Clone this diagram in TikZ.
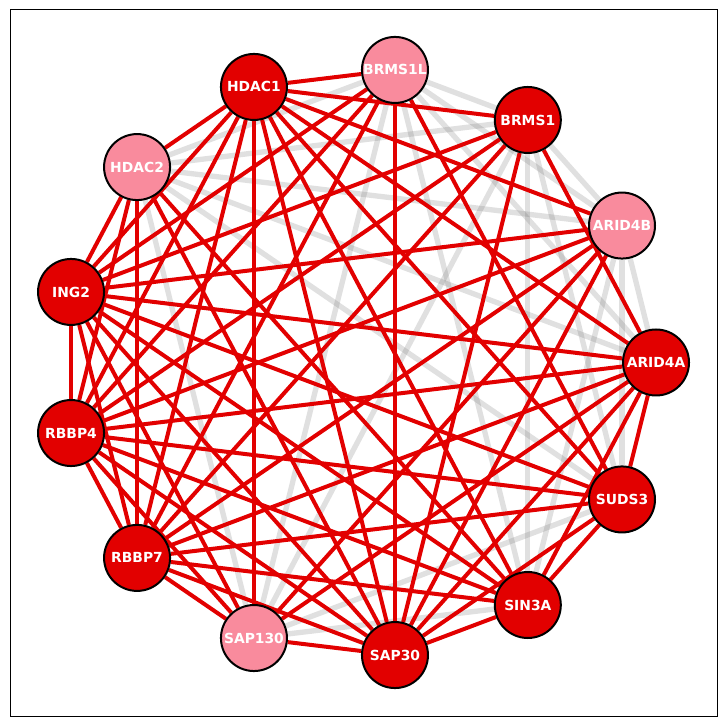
\documentclass[tikz,border=0pt]{standalone}
\usepackage{fontspec}
\setmainfont{DejaVu Sans}
\usepackage{tikz}

\definecolor{hubred}{RGB}{226,0,0}
\definecolor{softpink}{RGB}{249,139,157}
\pgfdeclarelayer{links}
\pgfsetlayers{links,main}

\begin{document}
\begin{tikzpicture}[
  x=0.75pt, y=0.75pt,
  prot/.style={circle, draw=black, line width=1.5pt, minimum size=49.5pt, inner sep=0pt,
    text=white, font=\fontsize{10.4}{12}\selectfont\bfseries},
  core/.style={prot, fill=hubred},
  minor/.style={prot, fill=softpink},
  weak/.style={line width=4pt, draw=black!60, opacity=0.2},
  strong/.style={line width=3pt, draw=hubred}
]
\useasboundingbox (0,0) rectangle (727,727);
\draw[line width=0.75pt] (10,10) rectangle (717,717);

\begin{scope}[shift={(359.2,364.5)}]
\node[core] (a4a) at (0:296.8 and 294.7) {ARID4A};
\node[minor] (a4b) at (27.69:296.8 and 294.7) {ARID4B};
\node[core] (b1) at (55.38:296.8 and 294.7) {BRMS1};
\node[minor] (b1l) at (83.08:296.8 and 294.7) {BRMS1L};
\node[core] (h1) at (110.77:296.8 and 294.7) {HDAC1};
\node[minor] (h2) at (138.46:296.8 and 294.7) {HDAC2};
\node[core] (i2) at (166.15:296.8 and 294.7) {ING2};
\node[core] (r4) at (193.85:296.8 and 294.7) {RBBP4};
\node[core] (r7) at (221.54:296.8 and 294.7) {RBBP7};
\node[minor] (s130) at (249.23:296.8 and 294.7) {SAP130};
\node[core] (s30) at (276.92:296.8 and 294.7) {SAP30};
\node[core] (s3a) at (304.62:296.8 and 294.7) {SIN3A};
\node[core] (sd3) at (332.31:296.8 and 294.7) {SUDS3};
\end{scope}

\begin{pgfonlayer}{links}
% background links
\foreach \u/\v in {a4a/a4b, a4a/h2, a4a/b1l,
    a4b/b1, a4b/b1l, a4b/h2, a4b/s3a, a4b/sd3,
    b1/b1l, b1/h2, b1/s130, b1/s3a, b1/sd3,
    b1l/h2, b1l/s130, b1l/s3a,
    h2/s130, h2/sd3, s130/s3a, s130/sd3}
  \draw[weak] (\u) -- (\v);

% strong links
\foreach \u/\v in {h1/b1, h1/a4a, h1/sd3, h1/s3a, h1/s30, h1/r7, h1/r4, h1/i2,
    b1/a4a, b1/s30, b1/r7, b1/r4, b1/i2,
    a4a/sd3, a4a/s3a, a4a/s30, a4a/r7, a4a/r4, a4a/i2,
    sd3/s3a, sd3/s30, sd3/r7, sd3/r4, sd3/i2,
    s3a/s30, s3a/r7, s3a/r4, s3a/i2,
    s30/r7, s30/r4, s30/i2,
    r7/r4, r7/i2, r4/i2,
    b1l/h1, b1l/i2, b1l/r4, b1l/r7, b1l/s30, b1l/sd3,
    h2/h1, h2/i2, h2/r4, h2/r7, h2/s30, h2/s3a,
    a4b/h1, a4b/i2, a4b/r4, a4b/r7, a4b/s130, a4b/s30,
    s130/h1, s130/s30, s130/a4a, s130/r7, s130/r4, s130/i2}
  \draw[strong] (\u) -- (\v);
\end{pgfonlayer}
\end{tikzpicture}
\end{document}
